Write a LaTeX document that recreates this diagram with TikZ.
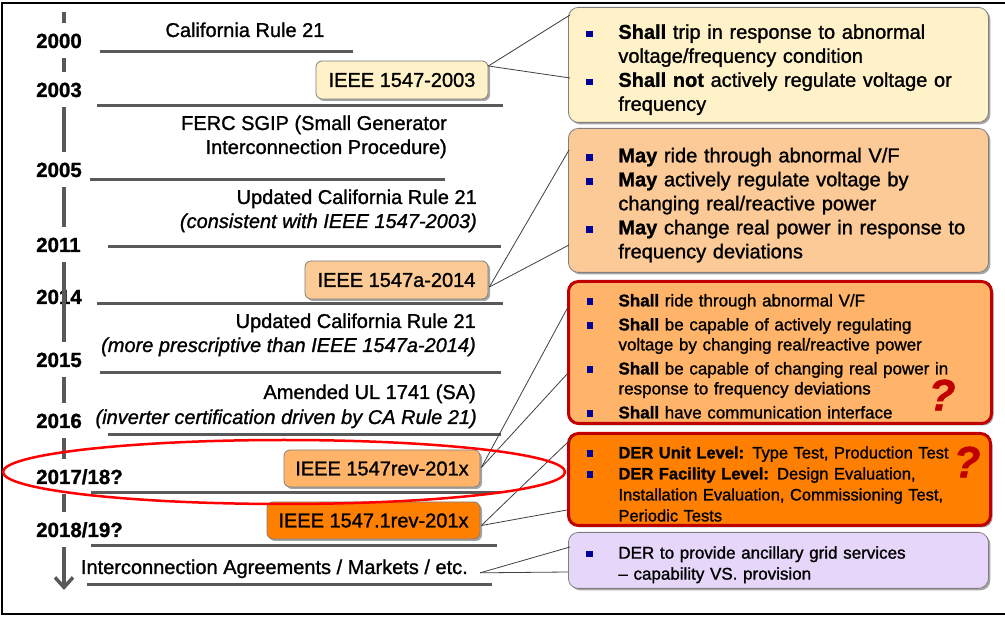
\documentclass[tikz,border=0pt]{standalone}
\usepackage{fontspec}
\setmainfont{Liberation Sans}[FakeBold=1.2]
\usetikzlibrary{arrows.meta,shadows,calc}
\definecolor{tl}{HTML}{595959}
\definecolor{yel}{HTML}{FFF2C8}
\definecolor{peach}{HTML}{FCCA96}
\definecolor{lor}{HTML}{FFB469}
\definecolor{dor}{HTML}{FF8000}
\definecolor{lav}{HTML}{E6D6FA}
\definecolor{dred}{HTML}{C00000}
\definecolor{bulblue}{HTML}{000099}
\definecolor{bord}{HTML}{7F7F7F}
\definecolor{conncol}{HTML}{404040}
\newcommand{\itm}[1]{\par\noindent\hangindent=32pt\hangafter=1\makebox[32pt][l]{\textcolor{bulblue}{\rule[1.5pt]{6.5pt}{6.5pt}}}#1\par}
\newcommand{\nl}{\hfil\break}
\begin{document}
\begin{tikzpicture}[x=1pt,y=-1pt,
  year/.style={font=\fontsize{20.5}{24}\selectfont\bfseries, anchor=base west, text height=15pt, text depth=0pt, inner ysep=10pt, inner xsep=8pt},
  ltxt/.style={font=\fontsize{20}{24}\selectfont, anchor=base east, inner sep=0pt},
  litx/.style={font=\fontsize{20}{24}\selectfont\itshape, anchor=base east, inner sep=0pt},
  hline/.style={draw=tl, line width=3pt},
  shad/.style={drop shadow={shadow xshift=2pt,shadow yshift=-2pt,opacity=0.35,fill=black}},
  sbox/.style={draw=bord, line width=0.8pt, rounded corners=6pt, font=\fontsize{20}{24}\selectfont, inner sep=0pt, shad},
  rbox/.style={draw=bord, line width=0.8pt, rounded corners=10pt, inner xsep=18pt, inner ysep=0pt, anchor=north west, shad},
  redbox/.style={rbox, draw=dred, line width=3pt},
  conn/.style={draw=conncol, line width=0.8pt},
  qmark/.style={font=\fontsize{44}{44}\selectfont\bfseries\itshape, text=dred, inner sep=0pt}
]
\useasboundingbox (0,0) rectangle (1005,617);
\fill[white] (0,0) rectangle (1005,617);
\draw[line width=1.5pt] (1010,3) -- (2,3) -- (2,614) -- (1010,614);

% timeline
\node[year] (y2014) at (28,304) {2014};
\coordinate (tltop) at (64,12);
\coordinate (tlend) at (64,590);
\draw[draw=tl, line width=3.5pt, -{Straight Barb[length=10pt,width=18pt]}] (tltop) -- (tlend);
\node[year, fill=white] (y2000) at (28,48) {2000};
\node[year, fill=white] (y2003) at (28,97) {2003};
\node[year, fill=white] (y2005) at (28,177) {2005};
\node[year, fill=white] (y2011) at (28,252) {2011};
\node[year, fill=white] (y2015) at (28,367) {2015};
\node[year, fill=white] (y2016) at (28,428) {2016};
\node[year, fill=white] (y2017) at (28,484) {2017/18?};
\node[year, fill=white] (y2018) at (28,537) {2018/19?};

% horizontal lines
\draw[hline] (100,52) -- (353,52);
\draw[hline] (97,106) -- (503,106);
\draw[hline] (90,180) -- (445,180);
\draw[hline] (108,247) -- (501,247);
\draw[hline] (97,304) -- (503,304);
\draw[hline] (100,373) -- (501,373);
\draw[hline] (108,435) -- (501,435);
\draw[hline] (91,493) -- (500,493);
\draw[hline] (91,546) -- (497,546);
\draw[hline] (87,585) -- (492,585);

% left texts
\node[ltxt, anchor=base] (t1) at (245,37) {California Rule 21};
\node[ltxt] (t2a) at (447,130) {FERC SGIP (Small Generator};
\node[ltxt] (t2b) at (447,154) {Interconnection Procedure)};
\node[ltxt] (t3a) at (477,204) {Updated California Rule 21};
\node[litx] (t3b) at (477,228) {(consistent with IEEE 1547-2003)};
\node[ltxt] (t4a) at (476,328) {Updated California Rule 21};
\node[litx] (t4b) at (476,352) {(more prescriptive than IEEE 1547a-2014)};
\node[ltxt] (t5a) at (476,399) {Amended UL 1741 (SA)};
\node[litx] (t5b) at (477,424) {(inverter certification driven by CA Rule 21)};
\node[ltxt] (tint) at (468,574) {Interconnection Agreements / Markets / etc.};

% left boxes
\node[sbox, fill=yel, minimum width=172pt, minimum height=38pt] (b1) at (402,80) {IEEE 1547-2003};
\node[sbox, fill=peach, minimum width=183pt, minimum height=38pt] (b2) at (396.5,280) {IEEE 1547a-2014};
\node[sbox, fill=lor, minimum width=196pt, minimum height=37pt] (b3) at (382,468.5) {IEEE 1547rev-201x};
\node[sbox, fill=dor, minimum width=213pt, minimum height=37pt] (b4) at (373.5,520.5) {IEEE 1547.1rev-201x};

% right boxes
\node[rbox, fill=yel, text width=384pt, minimum height=115pt, font=\fontsize{20}{24}\selectfont] (r1) at (568,7) {\raggedright
\itm{\textbf{Shall} trip in response to abnormal\nl voltage/frequency condition}
\itm{\textbf{Shall not} actively regulate voltage or\nl frequency}};
\node[rbox, fill=peach, text width=384pt, minimum height=144pt, font=\fontsize{20}{24}\selectfont] (r2) at (568,128) {\raggedright
\itm{\textbf{May} ride through abnormal V/F}
\itm{\textbf{May} actively regulate voltage by\nl changing real/reactive power}
\itm{\textbf{May} change real power in response to\nl frequency deviations}};
\node[redbox, fill=lor, text width=387pt, minimum height=142pt, font=\fontsize{17}{20}\selectfont] (r3) at (567,280) {\raggedright
\itm{\textbf{Shall} ride through abnormal V/F}\vspace{4pt}
\itm{\textbf{Shall} be capable of actively regulating\nl voltage by changing real/reactive power}\vspace{4pt}
\itm{\textbf{Shall} be capable of changing real power in\nl response to frequency deviations}\vspace{4pt}
\itm{\textbf{Shall} have communication interface}};
\node[redbox, fill=dor, text width=386pt, minimum height=92pt, font=\fontsize{16.5}{21}\selectfont] (r4) at (567,432) {\raggedright
\itm{\textbf{DER Unit Level:} Type Test, Production Test}
\itm{\textbf{DER Facility Level:} Design Evaluation,\nl Installation Evaluation, Commissioning Test,\nl Periodic Tests}};
\node[rbox, fill=lav, text width=384pt, minimum height=56pt, font=\fontsize{17}{21}\selectfont] (r5) at (568,532) {\raggedright
\itm{DER to provide ancillary grid services\nl – capability VS. provision}};

\node[qmark] (q1) at (942,395) {?};
\node[qmark] (q2) at (967,462) {?};

% connectors
\draw[conn] ($(b1.east)+(0,-14)$) -- ($(r1.north west)+(2,8)$);
\draw[conn] ($(b1.east)+(0,-14)$) -- ($(r1.north west)+(2,71)$);
\draw[conn] ($(b2.east)+(1,7)$) -- ($(r2.north west)+(1,22)$);
\draw[conn] ($(b2.east)+(1,7)$) -- ($(r2.north west)+(1,117)$);
\draw[conn] ($(b3.east)+(1,-1)$) -- ($(r3.north west)+(1,27)$);
\draw[conn] ($(b3.east)+(1,-1)$) -- ($(r3.north west)+(1,93)$);
\draw[conn] ($(b4.east)+(1,5)$) -- ($(r4.north west)+(3,8)$);
\draw[conn] ($(b4.east)+(1,5)$) -- ($(r4.north west)+(0,78)$);
\draw[conn] ($(tint.east)+(12,4)$) -- ($(r5.north west)+(2,15)$);
\draw[conn] ($(tint.east)+(12,4)$) -- ($(r5.north west)+(0,40)$);

% red ellipse
\draw[red, line width=2.5pt] (284,472) ellipse [x radius=281pt, y radius=32pt];
\end{tikzpicture}
\end{document}
